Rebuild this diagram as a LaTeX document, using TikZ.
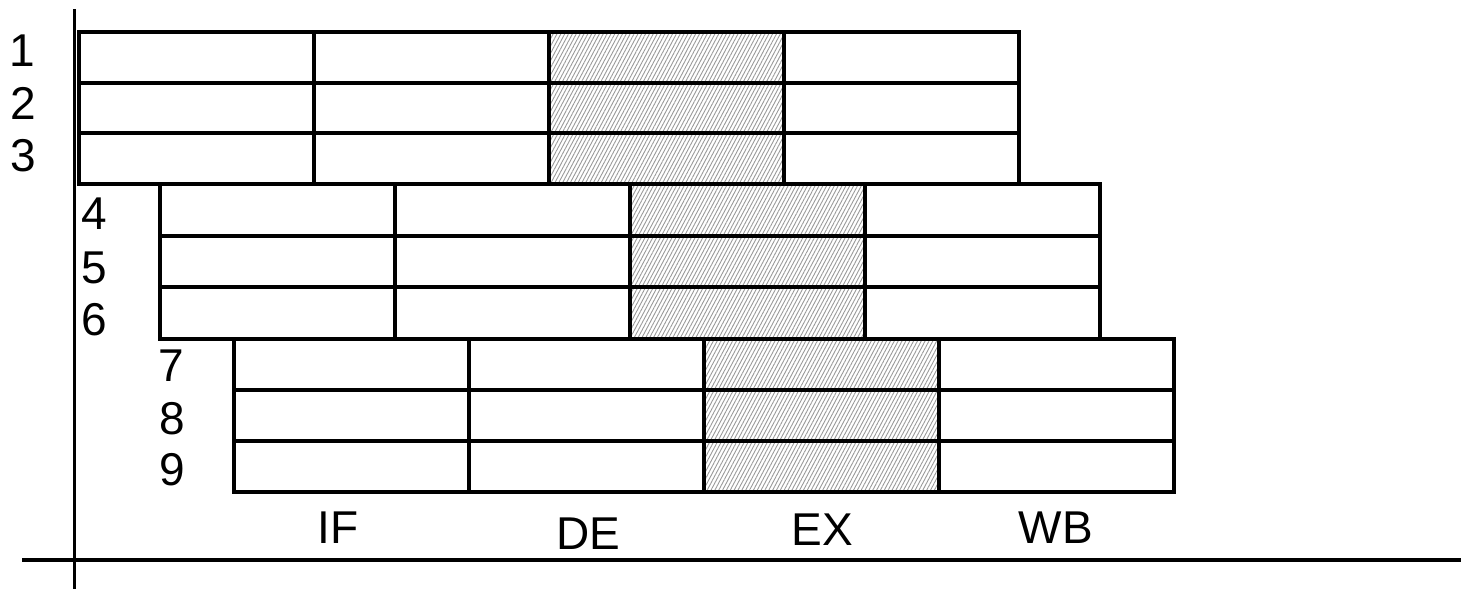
\documentclass[tikz,border=0pt]{standalone}
\usepackage{fontspec}
\setmainfont{Liberation Sans}
\usetikzlibrary{patterns.meta}
\begin{document}
\begin{tikzpicture}[x=1pt,y=-1pt,
  cell/.style={draw, line width=3.8pt, minimum width=235pt, minimum height=#1, inner sep=0pt, outer sep=0pt, anchor=north west},
  hatched/.style={pattern={Lines[angle=62,distance=3.4pt,line width=0.9pt]}, pattern color=gray!80},
  col0/.style={}, col1/.style={}, col2/.style={hatched}, col3/.style={},
  lbl/.style={font=\fontsize{46}{46}\selectfont, inner sep=0pt},
]
\useasboundingbox (0,0) rectangle (1461,589);
\foreach \b/\x/\y/\h in {1/79/32/50.67, 2/160/184/51.67, 3/234/339/51} {
  \foreach \r in {0,1,2} {
    \foreach \c in {0,1,2,3} {
      \node[cell=\h pt, col\c] (c\b\r\c) at ({\x+235*\c},{\y+\h*\r}) {};
    }
  }
}
% axes
\coordinate (vt) at (74,9);
\coordinate (vb) at (74,589);
\coordinate (hl) at (22,560);
\coordinate (hr) at (1461,560);
\draw[line width=3pt] (vt) -- (vb);
\draw[line width=4pt] (hl) -- (hr);
% row labels
\node[lbl] (n1) at (22,51) {1};
\node[lbl] (n2) at (23,103) {2};
\node[lbl] (n3) at (23,156) {3};
\node[lbl] (n4) at (94,214) {4};
\node[lbl] (n5) at (94,268) {5};
\node[lbl] (n6) at (94,320) {6};
\node[lbl] (n7) at (171,366) {7};
\node[lbl] (n8) at (172,419) {8};
\node[lbl] (n9) at (172,470) {9};
% stage labels
\node[lbl] (lif) at (338,528) {IF};
\node[lbl] (lde) at (588,534) {DE};
\node[lbl] (lex) at (822,530) {EX};
\node[lbl] (lwb) at (1056,528) {WB};
\end{tikzpicture}
\end{document}
